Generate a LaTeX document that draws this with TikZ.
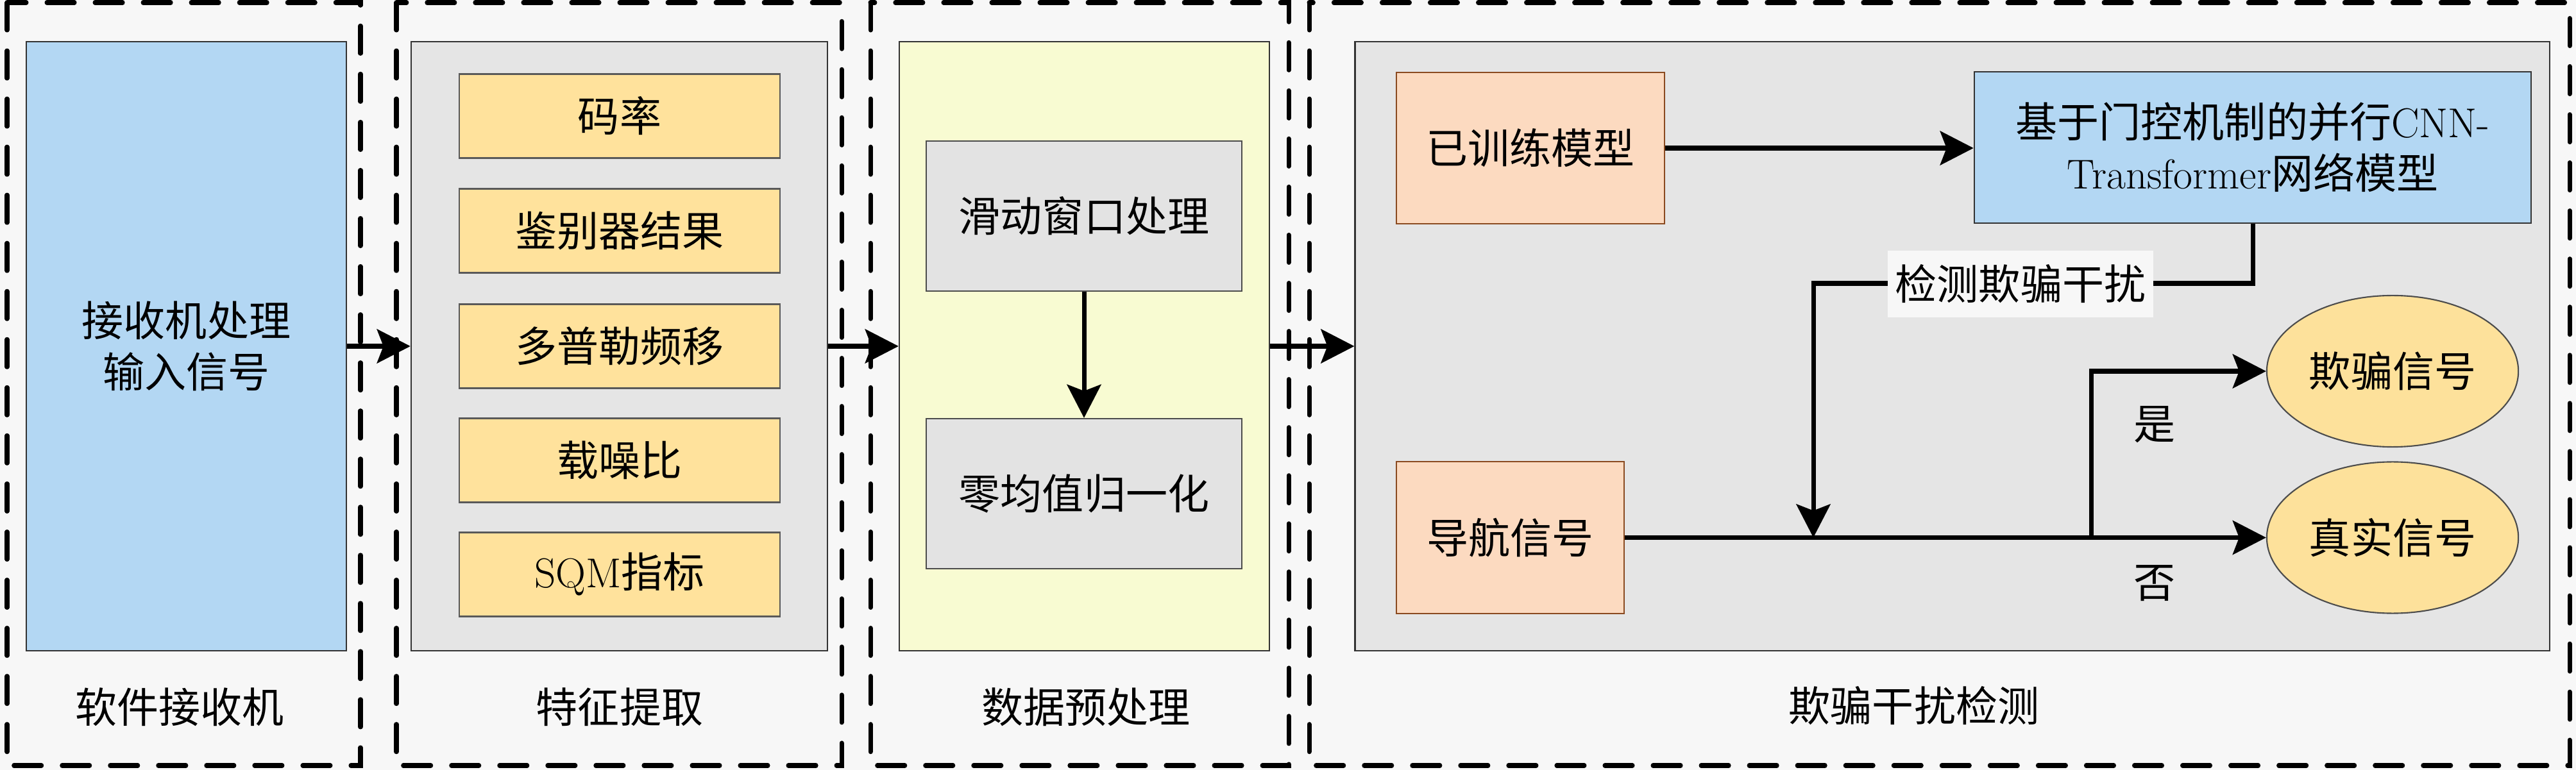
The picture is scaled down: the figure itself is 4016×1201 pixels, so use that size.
\documentclass[tikz,border=0pt]{standalone}
\usepackage{fontspec}
\newfontfamily\cjk{Noto Sans CJK SC}
\usetikzlibrary{arrows.meta,shapes.geometric}
\definecolor{bgc}{HTML}{F7F7F7}
\definecolor{bluec}{HTML}{B3D7F3}
\definecolor{grayc}{HTML}{E5E5E5}
\definecolor{yelc}{HTML}{FFE29C}
\definecolor{limec}{HTML}{F8FBD2}
\definecolor{boxgray}{HTML}{E3E3E3}
\definecolor{peachc}{HTML}{FCDAC0}
\definecolor{ellc}{HTML}{FDE19B}
\definecolor{brownb}{HTML}{8A4A20}
\begin{document}
\begin{tikzpicture}[x=0.01cm,y=-0.01cm,
  every node/.style={font=\cjk\fontsize{18.5}{22.8}\selectfont, inner sep=0pt, align=center},
  dashbox/.style={draw=black, line width=2pt, dash pattern=on 0.43cm off 0.32cm, line cap=round},
  panel/.style={draw=black!80, line width=0.6pt, rectangle},
  featbox/.style={draw=black!65, line width=0.6pt, fill=yelc, minimum width=5.00cm, minimum height=1.31cm},
  prebox/.style={draw=black!70, line width=0.6pt, fill=boxgray, minimum width=4.92cm, minimum height=2.34cm},
  peachbox/.style={draw=brownb, line width=0.6pt, fill=peachc, minimum height=2.36cm},
  sigell/.style={ellipse, draw=black!70, line width=0.6pt, fill=ellc, minimum width=3.92cm, minimum height=2.36cm},
  ln/.style={line width=2pt},
  arr/.style={line width=2pt, -{Stealth[length=0.52cm,width=0.53cm,inset=0.1cm]}}]

\useasboundingbox (0,0) rectangle (4016,1201);
\fill[bgc] (0,0) rectangle (4016,1201);

% dashed stage frames
\draw[dashbox] (11,4) rectangle (562,1194);
\draw[dashbox] (618,4) rectangle (1312,1194);
\draw[dashbox] (1357,4) rectangle (2009,1194);
\draw[dashbox] (2041,4) rectangle (4006,1194);

% panels
\node[panel, fill=bluec, minimum width=4.99cm, minimum height=9.50cm] (recv) at (290.5,540) {接收机处理\\输入信号};
\node[panel, fill=grayc, minimum width=6.49cm, minimum height=9.50cm] (feat) at (965.5,540) {};
\node[panel, fill=limec, minimum width=5.77cm, minimum height=9.50cm] (prep) at (1690.5,540) {};
\node[panel, fill=grayc, minimum width=18.61cm, minimum height=9.50cm] (det) at (3043.5,540) {};

% feature boxes
\node[featbox] (f1) at (966,181) {码率};
\node[featbox] (f2) at (966,360) {鉴别器结果};
\node[featbox] (f3) at (966,540) {多普勒频移};
\node[featbox] (f4) at (966,718) {载噪比};
\node[featbox] (f5) at (966,896) {{\rmfamily SQM}指标};

% preprocessing
\node[prebox] (p1) at (1690,337) {滑动窗口处理};
\node[prebox] (p2) at (1690,770) {零均值归一化};
\draw[arr] (p1.south) -- (p2.north);

% detection
\node[peachbox, minimum width=4.18cm] (trained) at (2386,231) {已训练模型};
\node[panel, fill=bluec, minimum width=8.68cm, minimum height=2.36cm] (cnn) at (3512,230)
  {基于门控机制的并行{\rmfamily CNN-}\\{\rmfamily Transformer}网络模型};
\node[peachbox, minimum width=3.55cm] (nav) at (2354.5,838.5) {导航信号};
\node[sigell] (spoof) at (3730,579) {欺骗信号};
\node[sigell] (real) at (3730,838.5) {真实信号};

\coordinate (split) at (3260,838.5);
\coordinate (dcorner) at (2827,442);
\coordinate (dend) at (2827,838.5);

\draw[arr] (trained.east) -- (trained.east -| cnn.west);
\draw[arr] (nav.east) -- (real.west);
\draw[arr] (split) |- (spoof.west);
\draw[arr] (cnn.south) |- (dcorner) -- (dend);
\node[fill=bgc, minimum width=4.13cm, minimum height=1.03cm] (detlbl) at (3150,443) {检测欺骗干扰};
\node (yes) at (3359,662) {是};
\node (no) at (3359,910) {否};

% stage arrows
\draw[arr] (recv.east) -- (feat.west);
\draw[arr] (feat.east) -- (prep.west);
\draw[arr] (prep.east) -- (det.west);

% stage labels
\node (l1) at (280,1103) {软件接收机};
\node (l2) at (966,1103) {特征提取};
\node (l3) at (1693,1103) {数据预处理};
\node (l4) at (2984,1101) {欺骗干扰检测};
\end{tikzpicture}
\end{document}
